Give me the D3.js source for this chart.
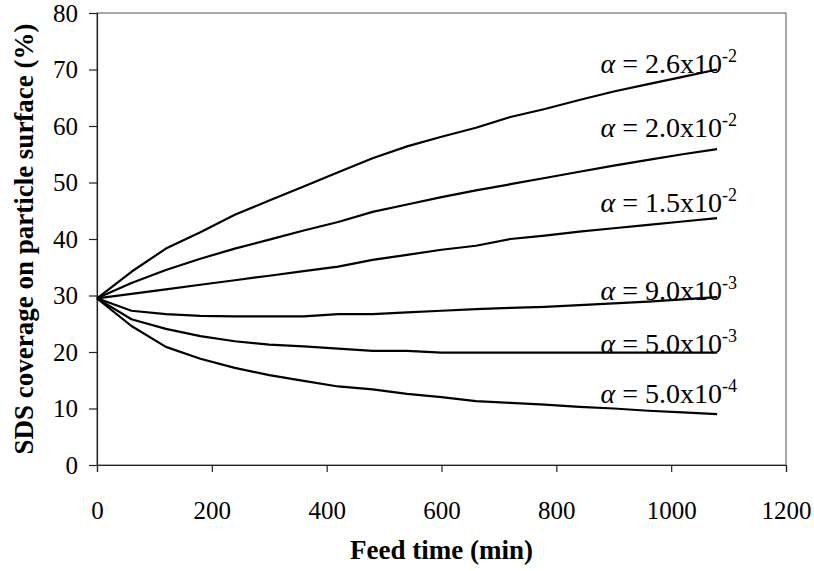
<!DOCTYPE html>
<html>
<head>
<meta charset="utf-8">
<script src="https://cdn.jsdelivr.net/npm/d3@7"></script>
<style>
  body { margin: 0; background: #fff; }
  text { font-family: "Liberation Serif", "Times New Roman", serif; fill: #000; }
</style>
</head>
<body>
<div id="chart"></div>
<script>
// feed time points (min)
var feedTime = [0, 60, 120, 180, 240, 300, 360, 420, 480, 540, 600, 660, 720, 780, 840, 900, 960, 1020, 1080];

// SDS coverage (%) for each alpha
var alpha26e2 = [29.5, 34.2, 38.3, 41.2, 44.3, 46.8, 49.3, 51.8, 54.3, 56.4, 58.1, 59.7, 61.6, 63.0, 64.6, 66.1, 67.4, 68.7, 70.0];
var alpha20e2 = [29.5, 32.2, 34.5, 36.5, 38.3, 39.9, 41.5, 43.0, 44.8, 46.1, 47.4, 48.6, 49.7, 50.8, 51.9, 53.0, 54.0, 55.0, 55.9];
var alpha15e2 = [29.5, 30.3, 31.1, 31.9, 32.7, 33.5, 34.3, 35.1, 36.3, 37.2, 38.1, 38.8, 40.0, 40.6, 41.3, 41.9, 42.5, 43.1, 43.7];
var alpha90e3 = [29.5, 27.3, 26.7, 26.4, 26.3, 26.3, 26.3, 26.7, 26.7, 27.0, 27.3, 27.6, 27.8, 28.0, 28.3, 28.6, 28.9, 29.3, 29.7];
var alpha50e3 = [29.5, 25.8, 24.1, 22.8, 21.9, 21.3, 21.0, 20.6, 20.2, 20.2, 19.9, 19.9, 19.9, 19.9, 19.9, 19.9, 19.9, 19.9, 19.9];
var alpha50e4 = [29.5, 24.6, 20.9, 18.8, 17.2, 15.9, 14.9, 13.9, 13.4, 12.6, 12.0, 11.3, 11.0, 10.7, 10.3, 10.0, 9.6, 9.3, 9.0];

// label text: mantissa and exponent, plus the y value of each label baseline
var labelMantissa = ["2.6", "2.0", "1.5", "9.0", "5.0", "5.0"];
var labelExponent = ["-2", "-2", "-2", "-3", "-3", "-4"];
var labelAt = [69.3, 58.0, 44.7, 29.2, 19.8, 11.0];

var xTicks = [0, 200, 400, 600, 800, 1000, 1200];
var yTicks = [0, 10, 20, 30, 40, 50, 60, 70, 80];

var series = [alpha26e2, alpha20e2, alpha15e2, alpha90e3, alpha50e3, alpha50e4];

var W = 814, H = 571;
var margin = {top: 13, right: 28, bottom: 106, left: 97};
var width = W - margin.left - margin.right;
var height = H - margin.top - margin.bottom;

var svg = d3.select("#chart").append("svg")
    .attr("width", W)
    .attr("height", H);

var g = svg.append("g")
    .attr("transform", "translate(" + margin.left + "," + margin.top + ")");

var xScale = d3.scaleLinear().domain([0, 1200]).range([0, width]);
var yScale = d3.scaleLinear().domain([0, 80]).range([height, 0]);

// frame around plot
g.append("rect")
    .attr("x", 0).attr("y", 0)
    .attr("width", width).attr("height", height)
    .attr("fill", "none")
    .attr("stroke", "#555")
    .attr("stroke-width", 1);

// axes
var xAxis = d3.axisBottom(xScale).tickValues(xTicks).tickSize(7).tickPadding(29).tickFormat(d3.format("d"));
var yAxis = d3.axisLeft(yScale).tickValues(yTicks).tickSize(8).tickPadding(11).tickFormat(d3.format("d"));

var gx = g.append("g")
    .attr("transform", "translate(0," + height + ")")
    .call(xAxis);
var gy = g.append("g").call(yAxis);

[gx, gy].forEach(function(a) {
  a.select(".domain").attr("stroke", "#222").attr("stroke-width", 1.2);
  a.selectAll(".tick line").attr("stroke", "#222").attr("stroke-width", 1.2);
  a.selectAll(".tick text")
    .attr("font-family", "'Liberation Serif', 'Times New Roman', serif")
    .attr("font-size", 25)
    .attr("fill", "#000");
});

// curves
var line = d3.line()
    .x(function(d, i) { return xScale(feedTime[i]); })
    .y(function(d) { return yScale(d); });

g.selectAll(".curve")
    .data(series)
    .enter()
    .append("path")
    .attr("class", "curve")
    .attr("d", line)
    .attr("fill", "none")
    .attr("stroke", "#000")
    .attr("stroke-width", 2.2)
    .attr("stroke-linejoin", "round");

// alpha labels
var labels = g.selectAll(".alpha")
    .data(labelMantissa)
    .enter()
    .append("text")
    .attr("class", "alpha")
    .attr("x", xScale(877))
    .attr("y", function(d, i) { return yScale(labelAt[i]); })
    .attr("font-size", 28);

labels.append("tspan")
    .attr("font-style", "italic")
    .text("\u03b1");
labels.append("tspan")
    .text(function(d) { return " = " + d + "x10"; });
labels.append("tspan")
    .attr("font-size", 18)
    .attr("dy", -11)
    .text(function(d, i) { return labelExponent[i]; });

// axis titles
svg.append("text")
    .attr("x", margin.left + xScale(600))
    .attr("y", 559)
    .attr("text-anchor", "middle")
    .attr("font-weight", "bold")
    .attr("font-size", 27)
    .text("Feed time (min)");

svg.append("text")
    .attr("transform", "translate(33," + (margin.top + height / 2) + ") rotate(-90)")
    .attr("text-anchor", "middle")
    .attr("font-weight", "bold")
    .attr("font-size", 27)
    .text("SDS coverage on particle surface (%)");
</script>
</body>
</html>
